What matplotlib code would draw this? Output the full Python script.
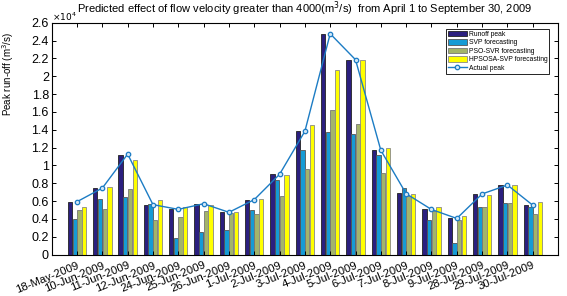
import numpy as np
import matplotlib
matplotlib.use("Agg")
import matplotlib.pyplot as plt

plt.rcParams['font.family'] = ['Liberation Sans', 'DejaVu Sans']

# dates of the flood peaks
dates = ['18-May-2009', '10-Jun-2009', '11-Jun-2009', '12-Jun-2009', '24-Jun-2009',
         '25-Jun-2009', '26-Jun-2009', '1-Jul-2009', '2-Jul-2009', '3-Jul-2009',
         '4-Jul-2009', '5-Jul-2009', '6-Jul-2009', '7-Jul-2009', '8-Jul-2009',
         '9-Jul-2009', '28-Jul-2009', '29-Jul-2009', '30-Jul-2009']

# values in units of 10^4 m^3/s
runoff = [0.593, 0.746, 1.12, 0.556, 0.507, 0.567, 0.474, 0.616, 0.90, 1.383,
          2.477, 2.186, 1.17, 0.685, 0.506, 0.405, 0.681, 0.778, 0.554]
svp = [0.396, 0.623, 0.642, 0.571, 0.187, 0.254, 0.272, 0.496, 0.84, 1.17,
       1.372, 1.353, 1.114, 0.748, 0.386, 0.132, 0.539, 0.584, 0.528]
pso_svr = [0.504, 0.515, 0.735, 0.384, 0.42, 0.493, 0.463, 0.45, 0.657, 0.965,
           1.626, 1.469, 0.92, 0.655, 0.49, 0.383, 0.528, 0.584, 0.453]
hpsosa = [0.537, 0.757, 1.063, 0.612, 0.534, 0.56, 0.474, 0.623, 0.892, 1.454,
          2.066, 2.186, 1.20, 0.674, 0.528, 0.427, 0.666, 0.78, 0.588]
actual = [0.593, 0.746, 1.127, 0.56, 0.507, 0.57, 0.474, 0.616, 0.90, 1.383,
          2.477, 2.186, 1.17, 0.683, 0.506, 0.405, 0.68, 0.78, 0.554]

series = [
    ('Runoff peak', runoff, '#2b1f7f', '#222222'),
    ('SVP forecasting', svp, '#159bd5', '#555555'),
    ('PSO-SVR forecasting', pso_svr, '#a3b46a', '#777777'),
    ('HPSOSA-SVP forecasting', hpsosa, '#ffff00', '#888888'),
]

fig = plt.figure(figsize=(5.67, 2.96), dpi=100)
ax = fig.add_axes([0.0912, 0.140, 0.893, 0.783])

x = np.arange(1, len(dates) + 1)
width = 0.17
offsets = [-1.5, -0.5, 0.5, 1.5]
handles = []
for (name, vals, color, edge), off in zip(series, offsets):
    b = ax.bar(x + off * 0.185, vals, width, color=color, edgecolor=edge,
               linewidth=0.6, label=name)
    handles.append(b)

line, = ax.plot(x, actual, '-o', color='#1c7cc4', lw=1.0, ms=3.2,
                mfc='#cfe6f7', mec='#1c7cc4', mew=0.9, label='Actual peak')
handles.append(line)

ax.set_xlim(0, 20)
ax.set_ylim(0, 2.6)
ax.set_xticks(x)
ax.set_xticklabels(dates, rotation=22, ha='right', rotation_mode='anchor', fontsize=8.2)
yt = np.arange(0, 2.61, 0.2)
ax.set_yticks(yt)
ax.set_yticklabels(['%g' % round(v, 1) for v in yt], fontsize=9)
ax.tick_params(direction='in', top=True, right=True, length=3, width=0.7)
ax.tick_params(axis='x', pad=4)
ax.tick_params(axis='y', pad=2)
for s in ax.spines.values():
    s.set_linewidth(0.8)

ax.text(0.0, 1.0, r'$\times10^{4}$', transform=ax.transAxes, fontsize=6.5,
        ha='left', va='bottom')
ax.set_ylabel('Peak run-off (m$^3$/s)', fontsize=7)
ax.yaxis.set_label_coords(-0.07, 0.78)
ax.set_title('Predicted effect of flow velocity greater than 4000(m$^3$/s)  from April 1 to September 30, 2009',
             fontsize=8, pad=7)

leg = ax.legend(handles=handles, loc='upper right', bbox_to_anchor=(0.983, 0.975),
                fontsize=4.9, frameon=True, fancybox=False, edgecolor='black',
                framealpha=1, handlelength=2.8, handleheight=0.9, labelspacing=0.2,
                borderpad=0.3, handletextpad=0.3, borderaxespad=0)
leg.get_frame().set_linewidth(0.6)

fig.savefig('out.png', dpi=100)
